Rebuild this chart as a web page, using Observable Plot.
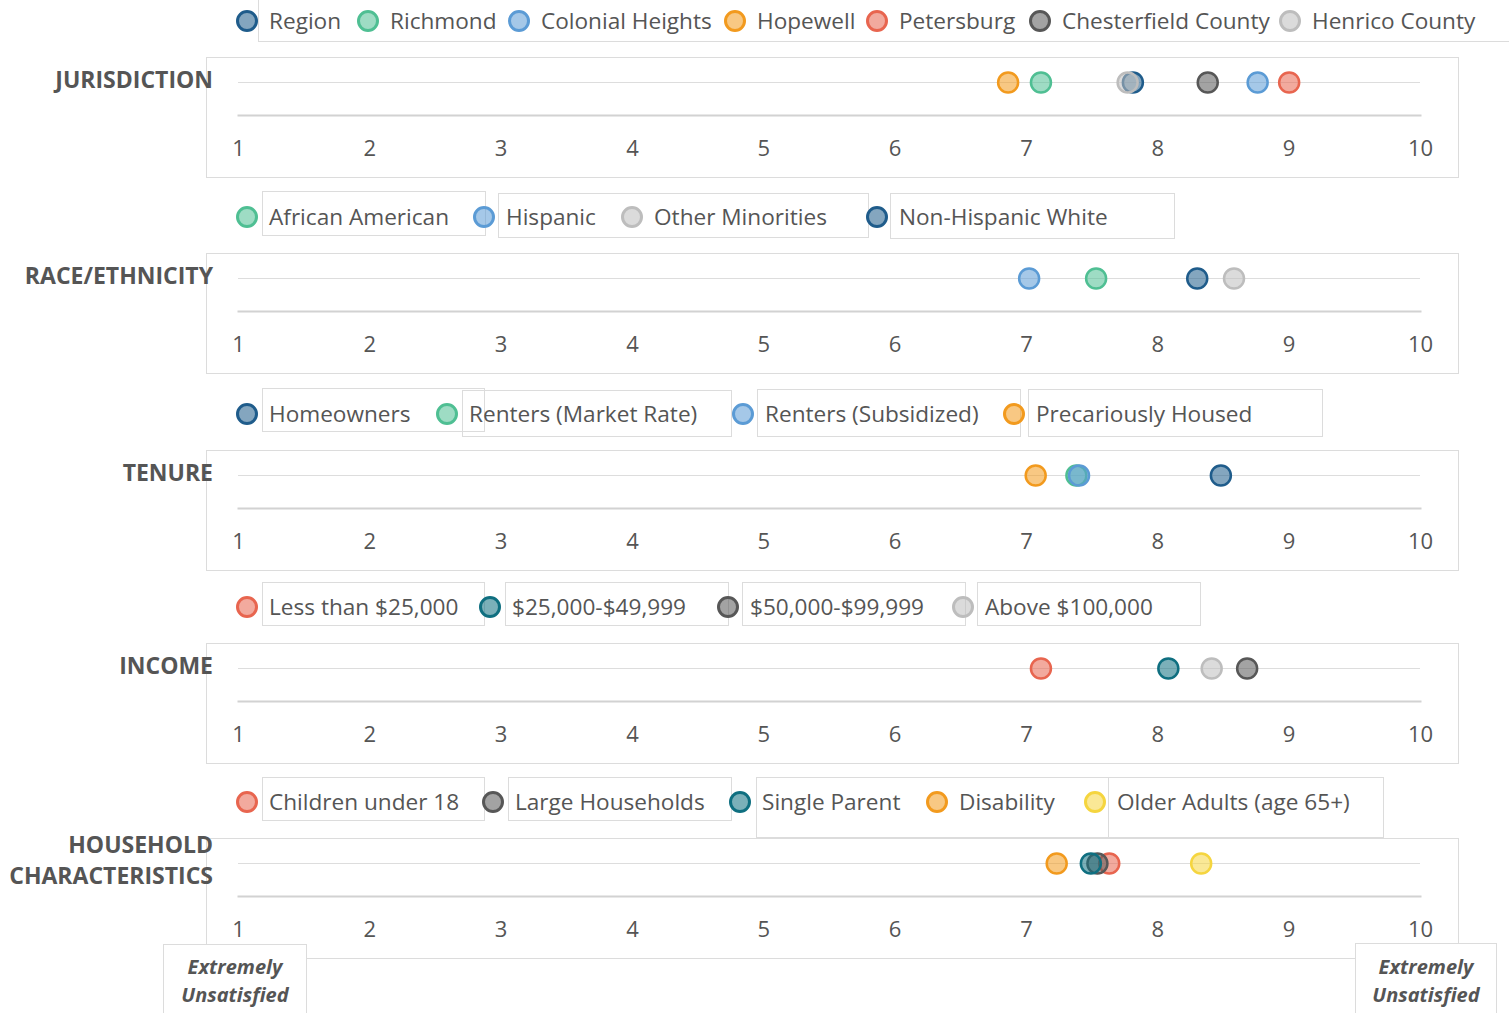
<!DOCTYPE html>
<html>
<head>
<meta charset="utf-8">
<script src="https://cdn.jsdelivr.net/npm/d3@7"></script>
<script src="https://cdn.jsdelivr.net/npm/@observablehq/plot@0.6"></script>
<style>
  html, body { margin: 0; padding: 0; background: #fff; }
  #root { position: relative; width: 1509px; height: 1013px; font-family: "Open Sans", sans-serif; color: #555; overflow: hidden; }
  .lbl { position: absolute; right: 1296px; text-align: right; font-weight: 700; font-size: 23px; line-height: 31px; transform: translateY(-50%); white-space: nowrap; }
  .box { position: absolute; border: 1px solid #dcdcdc; box-sizing: border-box; }
  .legtxt { position: absolute; font-size: 22.6px; line-height: 30px; white-space: nowrap; transform: translateY(-50%); color: #555; }
  .ext { position: absolute; font-weight: 700; font-style: italic; font-size: 20px; line-height: 28px; text-align: center; color: #555; }
</style>
</head>
<body>
<div id="root"></div>
<script>
// ---------------- DATA ----------------
const panelTitles = [["JURISDICTION"], ["RACE/ETHNICITY"], ["TENURE"], ["INCOME"], ["HOUSEHOLD", "CHARACTERISTICS"]];

const jurisdictions = ["Region", "Richmond", "Colonial Heights", "Hopewell", "Petersburg", "Chesterfield County", "Henrico County"];
const jurisdictionScores = [7.81, 7.11, 8.76, 6.86, 9.00, 8.38, 7.77];

const raceGroups = ["African American", "Hispanic", "Other Minorities", "Non-Hispanic White"];
const raceScores = [7.53, 7.02, 8.58, 8.30];

const tenureGroups = ["Homeowners", "Renters (Market Rate)", "Renters (Subsidized)", "Precariously Housed"];
const tenureScores = [8.48, 7.38, 7.40, 7.07];

const incomeGroups = ["Less than $25,000", "$25,000-$49,999", "$50,000-$99,999", "Above $100,000"];
const incomeScores = [7.11, 8.08, 8.68, 8.41];

const householdGroups = ["Children under 18", "Large Households", "Single Parent", "Disability", "Older Adults (age 65+)"];
const householdScores = [7.63, 7.54, 7.49, 7.23, 8.33];

const axisTicks = [1, 2, 3, 4, 5, 6, 7, 8, 9, 10];
const axisEndLabels = ["Extremely Unsatisfied", "Extremely Unsatisfied"];

// ---------------- STYLE ----------------
const palette = {
  navy: "#1f5c8b", green: "#4fbf93", blue: "#5b9bd5", orange: "#f29a1e",
  red: "#e8654f", dark: "#575757", light: "#bdbdbd", teal: "#0f6f80", yellow: "#f5d53f"
};
const colorKeys = [
  ["navy", "green", "blue", "orange", "red", "dark", "light"],
  ["green", "blue", "light", "navy"],
  ["navy", "green", "blue", "orange"],
  ["red", "teal", "dark", "light"],
  ["red", "dark", "teal", "orange", "yellow"]
];

// ---------------- LAYOUT ----------------
const panelTop = [57, 253, 450, 643, 838];
const legendX = [
  [247, 368, 519, 735, 877, 1040, 1290],
  [247, 484, 632, 877],
  [247, 447, 743, 1014],
  [247, 490, 728, 963],
  [247, 493, 740, 937, 1095]
];
// faint text-box outlines seen in the original legends
const legendBoxes = [
  [[258, -2, 1260, 44]],
  [[262, 191, 224, 45], [498, 193, 371, 45], [890, 193, 285, 46]],
  [[262, 388, 223, 44], [462, 390, 270, 47], [757, 389, 264, 48], [1028, 389, 295, 48]],
  [[262, 582, 223, 44], [505, 582, 224, 44], [742, 582, 224, 44], [977, 582, 224, 44]],
  [[262, 777, 223, 44], [508, 777, 224, 44], [756, 777, 353, 61], [1108, 777, 276, 61]]
];

const names = [jurisdictions, raceGroups, tenureGroups, incomeGroups, householdGroups];
const scores = [jurisdictionScores, raceScores, tenureScores, incomeScores, householdScores];

const root = document.getElementById("root");
function el(tag, cls, css, html) {
  const e = document.createElement(tag);
  if (cls) e.className = cls;
  if (css) Object.assign(e.style, css);
  if (html != null) e.textContent = html;
  root.appendChild(e);
  return e;
}
function circleSvg(color, cx, cy) {
  const ns = "http://www.w3.org/2000/svg";
  const s = document.createElementNS(ns, "svg");
  s.setAttribute("width", 26); s.setAttribute("height", 26);
  Object.assign(s.style, {position: "absolute", left: (cx - 13) + "px", top: (cy - 13) + "px"});
  const c = document.createElementNS(ns, "circle");
  c.setAttribute("cx", 13); c.setAttribute("cy", 13); c.setAttribute("r", 9.5);
  c.setAttribute("fill", color); c.setAttribute("fill-opacity", 0.55);
  c.setAttribute("stroke", color); c.setAttribute("stroke-width", 3);
  s.appendChild(c);
  root.appendChild(s);
}

panelTitles.forEach((title, i) => {
  const top = panelTop[i];
  const key = title.join(" ");
  const rows = names[i].map((n, j) => ({name: n, value: scores[i][j], color: palette[colorKeys[i][j]]}));

  legendBoxes[i].forEach(([x, y, w, h]) => el("div", "box", {left: x + "px", top: y + "px", width: w + "px", height: h + "px"}));
  const ly = top - 36;
  rows.forEach((r, j) => {
    circleSvg(r.color, legendX[i][j], ly);
    el("div", "legtxt", {left: (legendX[i][j] + 22) + "px", top: ly + "px"}, r.name);
  });

  el("div", "box", {left: "206px", top: top + "px", width: "1253px", height: "121px"});

  const lab = el("div", "lbl", {top: (top + 22) + "px"});
  lab.innerHTML = title.join("<br>");

  const chart = Plot.plot({
    width: 1252,
    height: 120,
    marginLeft: 32,
    marginRight: 38,
    marginTop: 0,
    marginBottom: 62,
    x: {domain: [1, 10]},
    y: {type: "point", domain: [key], range: [25, 25], axis: null},
    color: {type: "identity"},
    style: {fontFamily: "Open Sans, sans-serif", fontSize: "22px", color: "#555", background: "transparent", overflow: "visible"},
    marks: [
      Plot.ruleY([key], {stroke: "#dddddd", strokeWidth: 1}),
      Plot.frame({anchor: "bottom", stroke: "#d2d2d2", strokeWidth: 2}),
      Plot.axisX({ticks: axisTicks, tickSize: 0, tickPadding: 25, fontSize: 22, label: null, tickFormat: d => String(d)}),
      Plot.dot(rows, {x: "value", y: () => key, r: 10, fill: "color", fillOpacity: 0.55, stroke: "color", strokeWidth: 2.5})
    ]
  });
  Object.assign(chart.style, {position: "absolute", left: "206px", top: top + "px"});
  root.appendChild(chart);
});

// bottom end-label boxes (opaque, sitting over the last panel's frame)
el("div", "box", {left: "306px", top: "958px", width: "1050px", height: "80px", background: "#fff"});
el("div", "box", {left: "163px", top: "944px", width: "144px", height: "90px", background: "#fff"});
el("div", "box", {left: "1355px", top: "943px", width: "142px", height: "90px", background: "#fff"});

el("div", "ext", {left: "163px", top: "953px", width: "144px"}).innerHTML = axisEndLabels[0].replace(" ", "<br>");
el("div", "ext", {left: "1355px", top: "953px", width: "142px"}).innerHTML = axisEndLabels[1].replace(" ", "<br>");
</script>
</body>
</html>
